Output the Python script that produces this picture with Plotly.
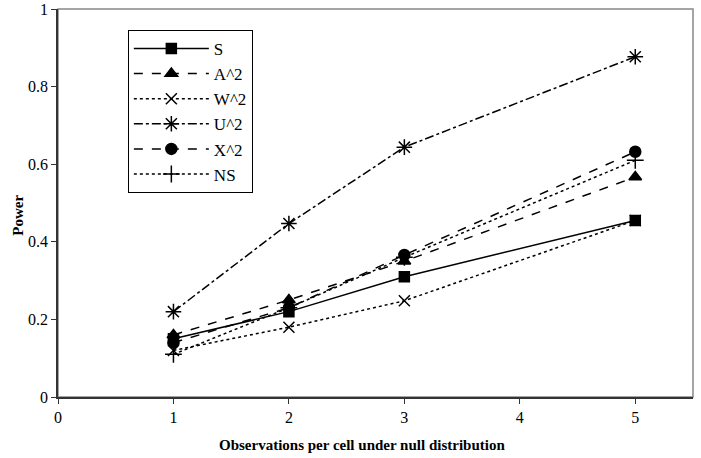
import plotly.graph_objects as go

x_vals = [1, 2, 3, 5]
series_names = ["S", "A^2", "W^2", "U^2", "X^2", "NS"]
s_vals = [0.15, 0.22, 0.31, 0.455]
a2_vals = [0.16, 0.25, 0.35, 0.567]
w2_vals = [0.12, 0.18, 0.248, 0.455]
u2_vals = [0.22, 0.447, 0.644, 0.877]
x2_vals = [0.14, 0.23, 0.366, 0.632]
ns_vals = [0.11, 0.23, 0.36, 0.61]

styles = [
    (s_vals, "solid", "square", 10),
    (a2_vals, "dash", "triangle-up", 11),
    (w2_vals, "dot", "x-thin-open", 11),
    (u2_vals, "dashdot", "asterisk-open", 13),
    (x2_vals, "dash", "circle", 11),
    (ns_vals, "dot", "cross-thin-open", 12),
]

fig = go.Figure()
for name, (vals, dash, sym, size) in zip(series_names, styles):
    fig.add_trace(go.Scatter(
        x=x_vals, y=vals, name=name, mode="lines+markers",
        line=dict(color="black", width=1.5, dash=dash),
        marker=dict(symbol=sym, size=size, color="black",
                    line=dict(color="black", width=1.5)),
    ))

font = "Liberation Serif, Times New Roman, serif"
fig.update_layout(
    width=701, height=458,
    margin=dict(l=58, r=8, t=9, b=61),
    plot_bgcolor="white", paper_bgcolor="white",
    font=dict(family=font, size=16, color="black"),
    showlegend=True,
    legend=dict(x=0.11, y=0.946, xanchor="left", yanchor="top",
                bgcolor="white", bordercolor="black", borderwidth=1,
                font=dict(family=font, size=17), tracegroupgap=0,
                itemwidth=75),
    xaxis=dict(range=[0, 5.5], tickvals=[0, 1, 2, 3, 4, 5],
               showgrid=False, zeroline=False, showline=True,
               linecolor="#333", linewidth=1.5, ticks="outside",
               ticklen=5, tickcolor="#333", automargin=False),
    yaxis=dict(range=[0, 1], tickvals=[0, 0.2, 0.4, 0.6, 0.8, 1],
               ticktext=["0", "0.2", "0.4", "0.6", "0.8", "1"],
               showgrid=False, zeroline=False, showline=True,
               linecolor="#333", linewidth=1.5, ticks="outside",
               ticklen=5, tickcolor="#333", automargin=False),
    annotations=[
        dict(text="<b>Observations per cell under null distribution</b>",
             xref="paper", yref="paper", x=0.479, y=-0.124,
             xanchor="center", yanchor="middle", showarrow=False,
             font=dict(family=font, size=15)),
        dict(text="<b>Power</b>", xref="paper", yref="paper",
             x=-0.063, y=0.47, xanchor="center", yanchor="middle",
             textangle=-90, showarrow=False, font=dict(family=font, size=15)),
    ],
    shapes=[dict(type="rect", xref="paper", yref="paper", x0=0, y0=0, x1=1, y1=1,
                 line=dict(color="#888", width=1.5), layer="below")],
)
fig.write_html("out.html")
